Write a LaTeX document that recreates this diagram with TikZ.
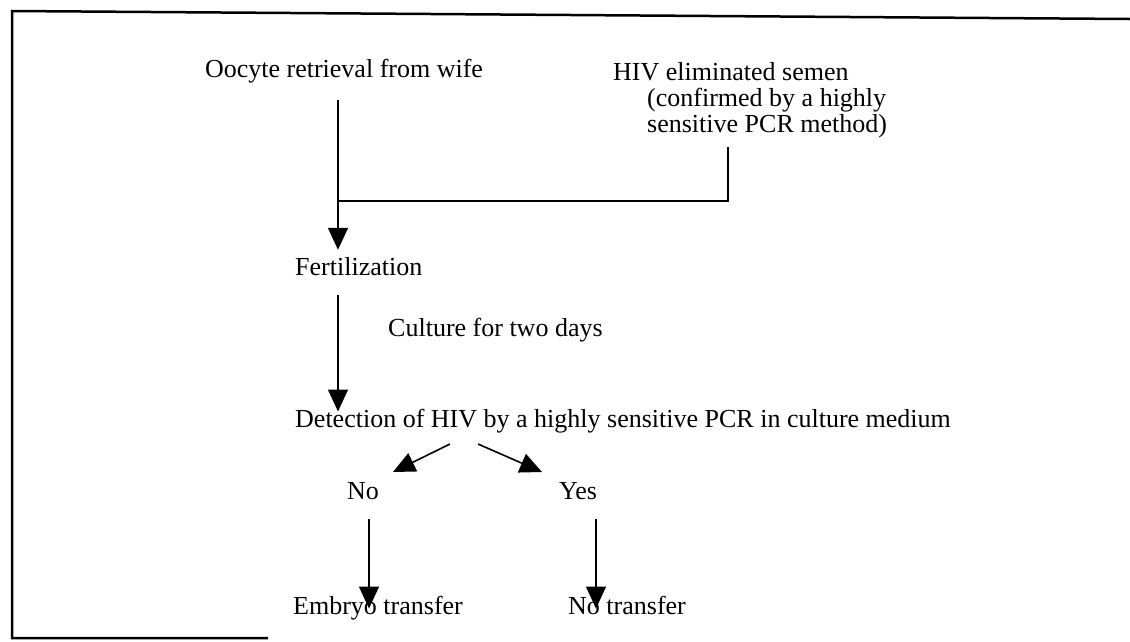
\documentclass[tikz,border=0pt]{standalone}
\usepackage{fontspec}
\setmainfont{Liberation Serif}
\usetikzlibrary{arrows.meta}

\tikzset{
	txt/.style={font=\fontsize{26}{26}\selectfont, inner sep=0pt},
	link/.style={line width=1.6pt},
	flow/.style={link, -{Triangle[width=20pt,length=22pt]}},
	frame/.style={line width=2.5pt},
}

\begin{document}
\begin{tikzpicture}[x=1pt,y=-1pt]
\useasboundingbox (0,0) rectangle (1130,641);

% frame, open on the right
\draw[frame] (1130,19) -- (12,11) -- (12,638) -- (268,638);

% texts
\node[txt,anchor=base] (oocyte) at (344,77) {Oocyte retrieval from wife};
\node[txt,anchor=base west] (semen) at (613,80) {HIV eliminated semen};
\node[txt,anchor=base west] (semenb) at (647,106) {(confirmed by a highly};
\node[txt,anchor=base west] (semenc) at (647,132) {sensitive PCR method)};
\node[txt,anchor=base west] (fert) at (295,275) {Fertilization};
\node[txt,anchor=base west] (culture) at (388,336) {Culture for two days};
\node[txt,anchor=base west] (detect) at (295,427) {Detection of HIV by a highly sensitive PCR in culture medium};
\node[txt,anchor=base] (no) at (363,499) {No};
\node[txt,anchor=base] (yes) at (578,499) {Yes};
\node[txt,anchor=base west] (embryo) at (293,614) {Embryo transfer};
\node[txt,anchor=base west] (notrans) at (568,614) {No transfer};

% joints
\coordinate (join) at (338,201);
\coordinate (semenfoot) at (728,147);
\coordinate (forkL) at (450,444);
\coordinate (tipL) at (393,472);
\coordinate (forkR) at (478,444);
\coordinate (tipR) at (542,472);
\coordinate (noDrop) at (369,519);
\coordinate (yesDrop) at (596,519);

% connectors
\draw[link] ([yshift=-17pt]oocyte.south -| join) -- (join);
\draw[link] (semenfoot) -- (semenfoot |- join) -- (join);
\draw[flow] (join) -- ([yshift=7pt]fert.north -| join);
\draw[flow] ([yshift=-20pt]fert.south -| join) -- ([yshift=-3pt]detect.north -| join);
\draw[flow] (forkL) -- (tipL);
\draw[flow] (forkR) -- (tipR);
\draw[flow] (noDrop) -- ([yshift=-13pt]noDrop |- embryo.north);
\draw[flow] (yesDrop) -- ([yshift=-13pt]yesDrop |- notrans.north);
\end{tikzpicture}
\end{document}
